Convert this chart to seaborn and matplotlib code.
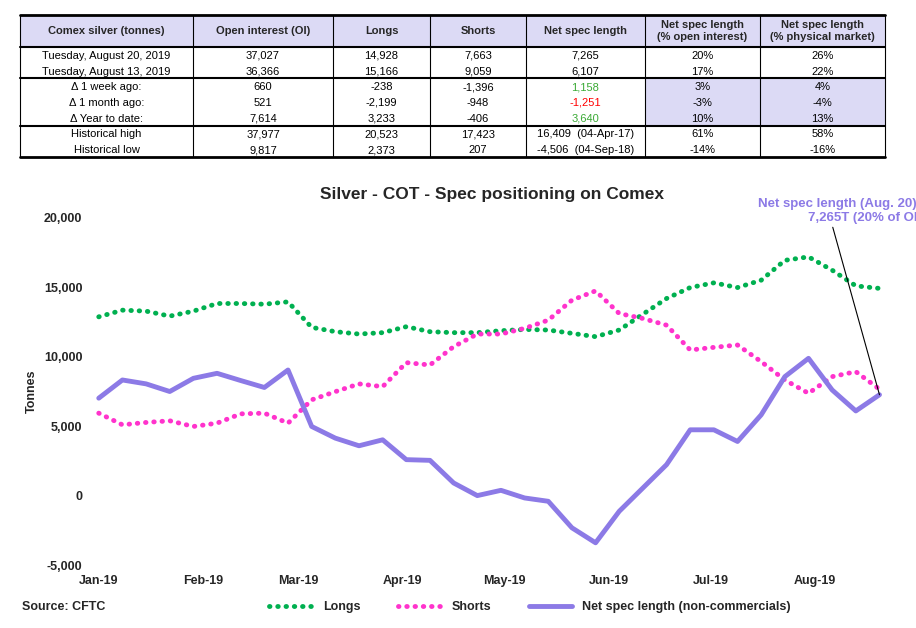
import matplotlib
matplotlib.use("Agg")
import matplotlib.pyplot as plt
import matplotlib.dates as mdates
import pandas as pd
import seaborn as sns
from matplotlib.patches import Rectangle

# ---- data ----
dates = pd.date_range("2019-01-01", "2019-08-20", freq="7D")
longs = [12880, 13360, 13290, 12930, 13290, 13840, 13840, 13790, 13960, 12120,
         11810, 11640, 11740, 12170, 11810, 11740, 11740, 11880, 11970, 11930,
         11690, 11450, 11930, 13070, 14200, 14990, 15330, 14990, 15520, 16950,
         17200, 16240, 15110, 14928]
shorts = [5940, 5100, 5270, 5390, 4980, 5220, 5890, 5940, 5220, 6900,
          7490, 8050, 7850, 9580, 9410, 10730, 11640, 11640, 12050, 12640,
          14080, 14750, 13120, 12760, 12280, 10490, 10680, 10850, 9650, 8330,
          7370, 8570, 8930, 7663]
net = [7020, 8330, 8050, 7500, 8450, 8810, 8290, 7790, 9050, 4980,
       4140, 3590, 4020, 2590, 2540, 910, 0, 380, -170, -410,
       -2320, -3400, -1130, 550, 2230, 4740, 4740, 3900, 5820, 8570,
       9890, 7610, 6100, 7265]

table_header = ["Comex silver (tonnes)", "Open interest (OI)", "Longs", "Shorts",
                "Net spec length", "Net spec length\n(% open interest)",
                "Net spec length\n(% physical market)"]
table_rows = [
    ["Tuesday, August 20, 2019", "37,027", "14,928", "7,663", "7,265", "20%", "26%"],
    ["Tuesday, August 13, 2019", "36,366", "15,166", "9,059", "6,107", "17%", "22%"],
    ["Δ 1 week ago:", "660", "-238", "-1,396", "1,158", "3%", "4%"],
    ["Δ 1 month ago:", "521", "-2,199", "-948", "-1,251", "-3%", "-4%"],
    ["Δ Year to date:", "7,614", "3,233", "-406", "3,640", "10%", "13%"],
    ["Historical high", "37,977", "20,523", "17,423", "16,409  (04-Apr-17)", "61%", "58%"],
    ["Historical low", "9,817", "2,373", "207", "-4,506  (04-Sep-18)", "-14%", "-16%"],
]
net_colors = {2: "#3aaa35", 3: "#ff0000", 4: "#3aaa35"}

sns.set_style("white")
plt.rcParams["font.family"] = ["Liberation Sans", "DejaVu Sans"]

W, H = 916, 628
fig = plt.figure(figsize=(W / 100, H / 100), dpi=100)

# ---- table (drawn in pixel coordinates) ----
tax = fig.add_axes([0, 0, 1, 1])
tax.set_xlim(0, W)
tax.set_ylim(H, 0)
tax.axis("off")
col_edges = [20, 193, 333, 430, 526, 645, 760, 885]
header_top, header_bot = 15, 47
row_h = 15.7
lav = "#dcdaf5"
tax.add_patch(Rectangle((20, header_top), 865, header_bot - header_top, fc=lav, ec="none"))
tax.add_patch(Rectangle((645, header_bot + 2 * row_h), 240, 3 * row_h, fc=lav, ec="none"))
for i, h in enumerate(table_header):
    cx = (col_edges[i] + col_edges[i + 1]) / 2
    tax.text(cx, (header_top + header_bot) / 2, h, ha="center", va="center",
             fontsize=8, fontweight="bold")
for r, row in enumerate(table_rows):
    cy = header_bot + row_h * (r + 0.5)
    for i, v in enumerate(row):
        cx = (col_edges[i] + col_edges[i + 1]) / 2
        c = net_colors.get(r, "black") if i == 4 else "black"
        tax.text(cx, cy, v, ha="center", va="center_baseline", fontsize=8, color=c)
bottom = header_bot + row_h * len(table_rows)
for x in col_edges:
    tax.plot([x, x], [header_top, bottom], color="black", lw=0.8)
for y, lw in [(header_top, 2), (header_bot, 1.5), (header_bot + 2 * row_h, 1.5),
              (header_bot + 5 * row_h, 1.5), (bottom, 2)]:
    tax.plot([20, 885], [y, y], color="black", lw=lw)

# ---- chart ----
ax = fig.add_axes([92 / W, 1 - 565 / H, (893 - 92) / W, (565 - 218) / H])
df = pd.DataFrame({"date": dates, "Longs": longs, "Shorts": shorts,
                   "Net spec length (non-commercials)": net})
sns.lineplot(data=df, x="date", y="Longs", ax=ax, color="#00b050", lw=3.5,
             linestyle=(0, (0.1, 1.6)), dash_capstyle="round", label="Longs")
sns.lineplot(data=df, x="date", y="Shorts", ax=ax, color="#ff33cc", lw=3.5,
             linestyle=(0, (0.1, 1.6)), dash_capstyle="round", label="Shorts")
sns.lineplot(data=df, x="date", y="Net spec length (non-commercials)", ax=ax,
             color="#8c7ae6", lw=3.5, label="Net spec length (non-commercials)")
for l in ax.lines[:2]:
    l.set_solid_capstyle("round")
    l.set_dash_capstyle("round")

ax.set_ylim(-5000, 20000)
ax.set_yticks(range(-5000, 20001, 5000))
ax.yaxis.set_major_formatter(matplotlib.ticker.FuncFormatter(lambda v, p: f"{v:,.0f}"))
ax.set_xlim(pd.Timestamp("2018-12-30"), pd.Timestamp("2019-08-24"))
ax.xaxis.set_major_locator(mdates.MonthLocator())
ax.xaxis.set_major_formatter(mdates.DateFormatter("%b-%y"))
ax.tick_params(labelsize=9)
for t in ax.get_xticklabels() + ax.get_yticklabels():
    t.set_fontweight("bold")
ax.set_xlabel("")
ax.set_ylabel("Tonnes", fontsize=9, fontweight="bold")
for s in ax.spines.values():
    s.set_visible(False)
ax.set_title("Silver - COT - Spec positioning on Comex", fontsize=12.5,
             fontweight="bold", pad=14)

ax.annotate("Net spec length (Aug. 20):\n7,265T (20% of OI)",
            xy=(dates[-1], net[-1]), xytext=(840 / W, 1 - 224 / H),
            textcoords="figure fraction",
            ha="center", va="bottom", fontsize=9.5, fontweight="bold", color="#8c7ae6",
            multialignment="right",
            arrowprops=dict(arrowstyle="-", color="black", lw=0.8,
                            shrinkA=0, shrinkB=0, relpos=(0.45, 0)),
            annotation_clip=False)

handles, labels = ax.get_legend_handles_labels()
ax.legend_.remove()
fig.legend(handles, labels, loc="center", bbox_to_anchor=(530 / W, 1 - 607 / H),
           ncol=3, frameon=False, handlelength=3.5, columnspacing=3,
           prop={"weight": "bold", "size": 9})
fig.text(22 / W, 1 - 607 / H, "Source: CFTC", fontsize=9, fontweight="bold", va="center")

fig.savefig("out.png", dpi=100)
